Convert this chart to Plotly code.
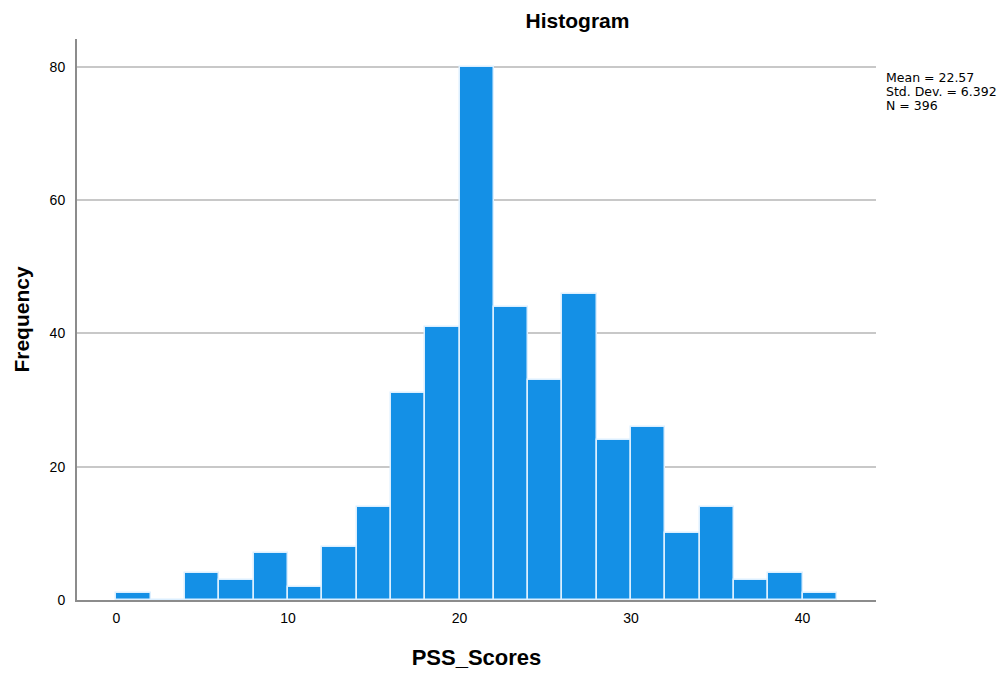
import plotly.graph_objects as go

bin_starts = [0, 2, 4, 6, 8, 10, 12, 14, 16, 18, 20, 22, 24, 26, 28, 30, 32, 34, 36, 38, 40]
frequencies = [1, 0, 4, 3, 7, 2, 8, 14, 31, 41, 80, 44, 33, 46, 24, 26, 10, 14, 3, 4, 1]
bin_width = 2
x_ticks = [0, 10, 20, 30, 40]
y_ticks = [0, 20, 40, 60, 80]
stats_lines = ["Mean = 22.57", "Std. Dev. = 6.392", "N = 396"]

centers = [s + bin_width / 2 for s in bin_starts]

fig = go.Figure()
fig.add_trace(go.Bar(
    x=centers, y=frequencies, width=[bin_width] * len(centers),
    marker=dict(color="#1490e6", line=dict(color="#dcefff", width=1.5)),
    showlegend=False,
))

font = "Liberation Sans, Arial, sans-serif"
# page has an 8px body offset; margins compensate
fig.update_layout(
    width=1006, height=675,
    margin=dict(l=69, r=138, t=31, b=83, autoexpand=False),
    paper_bgcolor="white", plot_bgcolor="white",
    font=dict(family=font, color="#000000", size=14),
    bargap=0,
    title=dict(text="<b>Histogram</b>", x=0.5661, xanchor="center", y=0.9807, yanchor="middle",
               xref="container", yref="container", font=dict(size=21, family=font)),
    xaxis=dict(range=[-2.30, 44.28], tickvals=x_ticks, showgrid=False, zeroline=False,
               showline=True, linecolor="#8c8c8c", linewidth=2, ticks="", ticklen=0,
               tickfont=dict(size=14), ticklabelstandoff=4,
               title=dict(text="<b>PSS_Scores</b>", font=dict(size=22), standoff=25)),
    yaxis=dict(range=[0, 84.2], tickvals=y_ticks, showgrid=True, gridcolor="#c8c8c8", gridwidth=1.5,
               zeroline=False, showline=True, linecolor="#8c8c8c", linewidth=2, ticks="",
               tickfont=dict(size=14), ticklabelstandoff=7,
               title=dict(text="<b>Frequency</b>", font=dict(size=21), standoff=14)),
)

stat_y = [0.932, 0.907, 0.882]
for line, yy in zip(stats_lines, stat_y):
    fig.add_annotation(
        text=line, xref="paper", yref="paper",
        x=1.010, y=yy, xanchor="left", yanchor="middle", align="left", showarrow=False,
        font=dict(size=12.5, family="DejaVu Sans, sans-serif"),
    )

fig.write_html("out.html")
